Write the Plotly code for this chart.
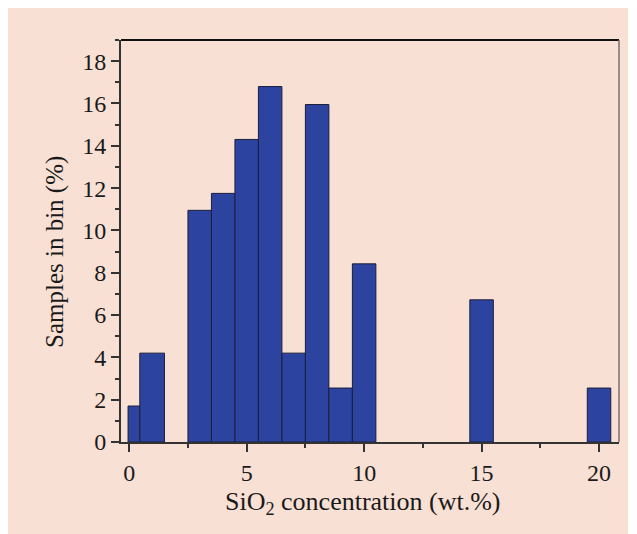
import plotly.graph_objects as go

# Histogram bins (left edge, right edge) in wt.% SiO2 and share of samples (%)
bin_left = [-0.05, 0.45, 2.5, 3.5, 4.5, 5.5, 6.5, 7.5, 8.5, 9.5, 14.5, 19.5]
bin_right = [0.45, 1.5, 3.5, 4.5, 5.5, 6.5, 7.5, 8.5, 9.5, 10.5, 15.5, 20.5]
samples_pct = [1.7, 4.2, 10.95, 11.75, 14.3, 16.8, 4.2, 15.95, 2.55, 8.42, 6.72, 2.55]

x_ticks = [0, 5, 10, 15, 20]
y_ticks = [0, 2, 4, 6, 8, 10, 12, 14, 16, 18]

x_title = "SiO<sub>2</sub> concentration (wt.%)"
y_title = "Samples in bin (%)"

centers = [(a + b) / 2 for a, b in zip(bin_left, bin_right)]
widths = [b - a for a, b in zip(bin_left, bin_right)]

BG = "#f9e0d5"
FONT = "Liberation Serif"
INK = "#1a1a1a"

fig = go.Figure(
    go.Bar(
        x=centers,
        y=samples_pct,
        width=widths,
        marker=dict(color="#2d43a0", line=dict(color="#1b1f3a", width=1)),
    )
)

axis_common = dict(
    ticks="outside",
    ticklen=8,
    tickwidth=1.5,
    tickcolor="#333333",
    showline=True,
    linecolor="#333333",
    linewidth=2,
    showgrid=False,
    zeroline=False,
    tickfont=dict(family=FONT, size=24, color=INK),
)

fig.update_layout(
    width=620,
    height=534,
    paper_bgcolor=BG,
    plot_bgcolor=BG,
    margin=dict(l=113, r=9, t=32, b=100),
    showlegend=False,
    font=dict(family=FONT, size=24, color=INK),
    xaxis=dict(
        range=[-0.35, 20.85],
        tickvals=x_ticks,
        minor=dict(dtick=2.5, tick0=0, ticks="outside", ticklen=4, tickwidth=1.5, tickcolor="#333333"),
        **axis_common,
    ),
    yaxis=dict(
        range=[0, 19],
        tickvals=y_ticks,
        minor=dict(dtick=1, tick0=0, ticks="outside", ticklen=4, tickwidth=1.5, tickcolor="#333333"),
        **axis_common,
    ),
    shapes=[
        dict(type="line", xref="paper", yref="paper", x0=0, x1=1, y0=1, y1=1,
             line=dict(color="#111111", width=2)),
        dict(type="line", xref="paper", yref="paper", x0=1, x1=1, y0=0, y1=1,
             line=dict(color="#7a7070", width=1.5)),
    ],
    annotations=[
        dict(text=x_title, xref="paper", yref="paper", x=0.486, y=0,
             xanchor="center", yanchor="top", yshift=-43, showarrow=False,
             font=dict(family=FONT, size=26, color=INK)),
        dict(text=y_title, xref="paper", yref="paper", x=0, y=0.4726,
             xanchor="center", yanchor="middle", xshift=-66, textangle=-90,
             showarrow=False, font=dict(family=FONT, size=25, color=INK)),
    ],
)

fig.write_html("out.html")
